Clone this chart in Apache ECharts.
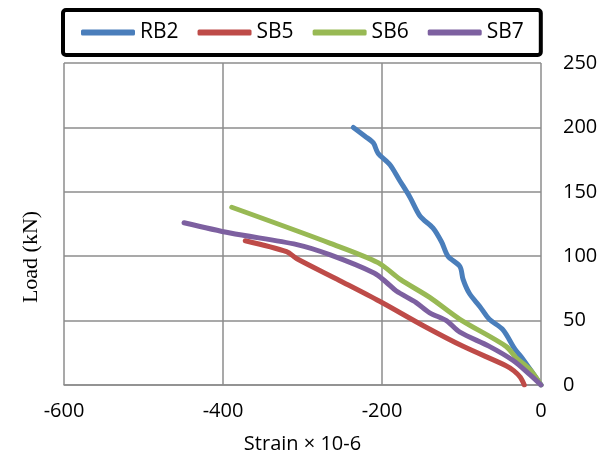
<!DOCTYPE html>
<html>
<head>
<meta charset="utf-8">
<script src="https://cdn.jsdelivr.net/npm/echarts@6/dist/echarts.min.js"></script>
<style>
  html, body { margin: 0; padding: 0; background: #fff; }
  #chart { width: 615px; height: 458px; }
</style>
</head>
<body>
<div id="chart"></div>
<script>
// 数据：应变(x) 与 荷载(y)
var seriesNames = ["RB2", "SB5", "SB6", "SB7"];
var seriesColors = ["#4a7ebb", "#be4b48", "#98b954", "#7d60a0"];

var rb2Strain = [0, -10, -25, -33, -48, -65, -77, -90, -98, -102, -117, -125, -136, -152, -165, -178, -190, -205, -211, -221, -236];
var rb2Load   = [0, 9, 22, 28, 43, 51, 61, 71, 82, 92, 100, 111, 122, 131, 146, 159, 171, 180, 188, 193, 200];

var sb5Strain = [-21, -26, -34, -44, -98, -148, -203, -253, -307, -320, -372];
var sb5Load   = [0, 6, 11, 15, 30, 46, 65, 81, 98, 103.5, 112];

var sb6Strain = [0, -14, -31, -44, -102, -140, -177, -205, -265, -389];
var sb6Load   = [0, 12, 21, 30, 51, 68, 82, 95, 110, 138];

var sb7Strain = [0, -14, -35, -65, -102, -119, -140, -157, -182, -195, -210, -265, -307, -391, -449];
var sb7Load   = [0, 8, 19, 30, 41, 50, 56, 64, 73, 80, 87, 101, 109, 118, 126];

var xTicks = { min: -600, max: 0, interval: 200 };
var yTicks = { min: 0, max: 250, interval: 50 };

function pairs(xs, ys) {
  return xs.map(function (x, i) { return [x, ys[i]]; });
}

var allData = [
  pairs(rb2Strain, rb2Load),
  pairs(sb5Strain, sb5Load),
  pairs(sb6Strain, sb6Load),
  pairs(sb7Strain, sb7Load)
];

var myChart = echarts.init(document.getElementById("chart"));
var gridColor = "#8c8c8c";

var opts = {
  animation: false,
  grid: { left: 64, right: 74, top: 63, bottom: 73, outerBoundsMode: "none" },
  legend: {
    data: seriesNames,
    left: 63,
    top: 10,
    icon: "roundRect",
    itemWidth: 54,
    itemHeight: 6,
    itemGap: 19,
    padding: [12, 17, 12, 18],
    borderColor: "#000",
    borderWidth: 4,
    borderRadius: 3,
    textStyle: { fontFamily: "Open Sans", fontSize: 21, color: "#000" }
  },
  xAxis: {
    type: "value",
    min: xTicks.min,
    max: xTicks.max,
    interval: xTicks.interval,
    name: "Strain \u00d7 10-6",
    nameLocation: "middle",
    nameGap: 49,
    nameTextStyle: { fontFamily: "Open Sans", fontSize: 20, color: "#000" },
    axisLine: { show: true, lineStyle: { color: gridColor, width: 1.5 } },
    axisTick: { show: false },
    axisLabel: { fontFamily: "Open Sans", fontSize: 20, color: "#000", margin: 16 },
    splitLine: { show: true, lineStyle: { color: gridColor, width: 1.5 } }
  },
  yAxis: {
    type: "value",
    position: "right",
    min: yTicks.min,
    max: yTicks.max,
    interval: yTicks.interval,
    axisLine: { show: false },
    axisTick: { show: false },
    axisLabel: { fontFamily: "Open Sans", fontSize: 20, color: "#000", margin: 22, align: "left" },
    splitLine: { show: true, lineStyle: { color: gridColor, width: 1.5 } }
  },
  // y 轴标题放在左侧
  graphic: [{
    type: "text",
    x: 31,
    y: 257,
    rotation: Math.PI / 2,
    style: {
      text: "Load (kN)",
      fill: "#000",
      font: "22px 'Liberation Serif'",
      textAlign: "center",
      textVerticalAlign: "middle"
    }
  }],
  series: seriesNames.map(function (name, i) {
    return {
      name: name,
      type: "line",
      smooth: 0.3,
      showSymbol: false,
      color: seriesColors[i],
      lineStyle: { width: 5, color: seriesColors[i], cap: "round", join: "round" },
      data: allData[i]
    };
  })
};

myChart.setOption(opts);
</script>
</body>
</html>
